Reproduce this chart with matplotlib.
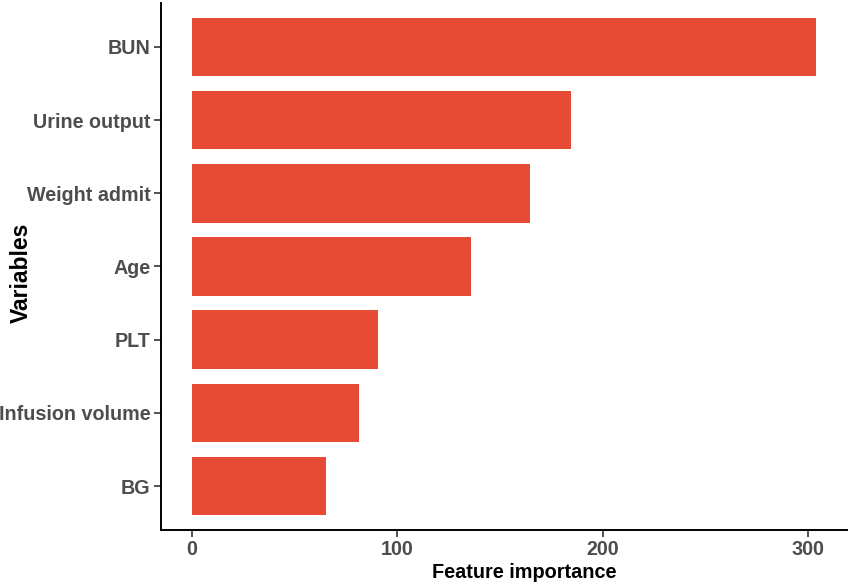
import matplotlib.pyplot as plt

variables = ['BUN', 'Urine output', 'Weight admit', 'Age', 'PLT', 'Infusion volume', 'BG']
importance = [303.6, 184.5, 164.4, 136.0, 90.5, 81.4, 65.0]
xticks = [0, 100, 200, 300]

plt.rcParams['font.family'] = ['Liberation Sans', 'DejaVu Sans']

f = plt.figure(figsize=(8.51, 5.84), dpi=100)
ax = f.add_axes([0.189, 0.0925, 0.806, 0.9025])

# top bar first, like the reference
pos = list(range(len(variables), 0, -1))
ax.barh(pos, importance, height=0.8, color='#E64B35', edgecolor='none')

ax.set_xlim(-15.2, 318.8)
ax.set_ylim(0.4, len(variables) + 0.6)
ax.set_yticks(pos)
ax.set_yticklabels(variables)
ax.set_xticks(xticks)

for s in ['top', 'right']:
    ax.spines[s].set_visible(False)
for s in ['left', 'bottom']:
    ax.spines[s].set_linewidth(1.4)
    ax.spines[s].set_color('black')

ax.tick_params(axis='both', length=5, width=1.2, color='#333333',
               labelsize=14.2, labelcolor='#4D4D4D', pad=2.5)
for lab in ax.get_xticklabels() + ax.get_yticklabels():
    lab.set_fontweight('bold')

ax.set_xlabel('Feature importance', fontsize=14.3, fontweight='bold', va='center')
ax.xaxis.set_label_coords(0.53, -0.08)
ax.set_ylabel('Variables', fontsize=16.5, fontweight='bold', va='center')
ax.yaxis.set_label_coords(-0.203, 0.488)

f.savefig('out.png', dpi=100)
